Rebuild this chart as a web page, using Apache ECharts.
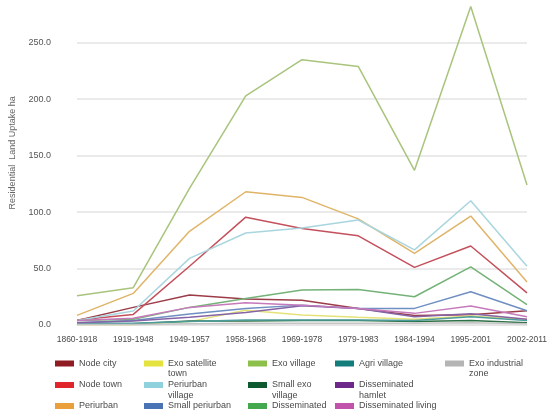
<!DOCTYPE html>
<html><head><meta charset="utf-8">
<script src="https://cdn.jsdelivr.net/npm/echarts@6/dist/echarts.min.js"></script>
<style>html,body{margin:0;padding:0;background:#fff}#c{width:550px;height:416px}</style>
</head><body><div id="c"></div>
<script>
var categories = ['1860-1918','1919-1948','1949-1957','1958-1968','1969-1978','1979-1983','1984-1994','1995-2001','2002-2011'];
var yTicks = [0, 50, 100, 150, 200, 250];

var nodeCity          = [4, 15.6, 26.5, 23, 22, 14.7, 8.5, 9, 12.6];
var nodeTown          = [4.5, 9.4, 52, 95.5, 85.5, 79, 51, 70, 28.5];
var periurban         = [8.5, 28, 83, 118, 113, 94, 63.5, 96.5, 38];
var exoSatelliteTown  = [0.5, 0.5, 3, 13, 8.8, 6.8, 5, 8, 5];
var periurbanVillage  = [4, 12.4, 59, 81.5, 86, 93, 66.5, 110, 52];
var smallPeriurban    = [2, 4, 9.7, 14.7, 17.6, 14.7, 14.7, 29.4, 12.6];
var exoVillage        = [26, 33, 121, 203, 235, 229, 137, 282, 124];
var smallExoVillage   = [1, 1, 3.5, 3.5, 4, 4, 3, 4, 2];
var disseminated      = [4, 5, 15.6, 23.5, 31, 31.5, 25, 51.5, 18];
var agriVillage       = [1.5, 1.5, 3, 4.5, 4.5, 4.5, 4, 7.4, 4];
var dissHamlet        = [2, 3.5, 6.8, 11, 17, 14.7, 7.4, 10, 5];
var dissLiving        = [4, 6, 15.6, 19.7, 17.6, 14.7, 10.3, 16.8, 7.4];
var exoIndustrialZone = [0.5, 0.5, 1, 1.5, 1.5, 1.5, 1.5, 2, 1];

var seriesNames = ['Node city','Node town','Periurban','Exo satellite town','Periurban village','Small periurban','Exo village','Small exo village','Disseminated','Agri village','Disseminated hamlet','Disseminated living','Exo industrial zone'];
var seriesData = [nodeCity,nodeTown,periurban,exoSatelliteTown,periurbanVillage,smallPeriurban,exoVillage,smallExoVillage,disseminated,agriVillage,dissHamlet,dissLiving,exoIndustrialZone];
var legendColors = ['#8e1c22','#e0252d','#e9a03a','#e3e23e','#8fd2de','#4a73b5','#8cc04a','#0e5a30','#44a84e','#137d7c','#6e2889','#c153aa','#b5b5b5'];
var lineColors   = ['#9b3c48','#c4505c','#e0b468','#e6e27a','#a9d6de','#6f8fc2','#a9c47c','#2e7046','#74b277','#4d9c9c','#8564a6','#c57abb','#c4c4c4'];
var legendLabels = {'Exo satellite town':' \nExo satellite\ntown','Periurban village':' \nPeriurban\nvillage','Small exo village':' \nSmall exo\nvillage','Disseminated hamlet':' \nDisseminated\nhamlet','Exo industrial zone':' \nExo industrial\nzone'};

// legend grid: [name, column index, row index]
var colX = [55, 144, 248, 335, 445];
var rowY = [363.5, 385, 406];
var legendCells = [
  ['Node city',0,0],['Exo satellite town',1,0],['Exo village',2,0],['Agri village',3,0],['Exo industrial zone',4,0],
  ['Node town',0,1],['Periurban village',1,1],['Small exo village',2,1],['Disseminated hamlet',3,1],
  ['Periurban',0,2],['Small periurban',1,2],['Disseminated',2,2],['Disseminated living',3,2]
];

var FONT = "'Liberation Sans',Arial,sans-serif";
var LH = 10.5;
var legends = legendCells.map(function(c){
  var two = !!legendLabels[c[0]];
  return {
    show: true, orient: 'horizontal', padding: 0,
    left: colX[c[1]],
    top: rowY[c[2]] - (two ? 3 * LH / 2 : LH / 2),
    icon: 'rect', itemWidth: 19, itemHeight: 6, itemGap: 0,
    selectedMode: false,
    formatter: function(n){ return legendLabels[n] || n; },
    textStyle: {
      fontFamily: FONT, fontSize: 9, color: '#4a4a4a', lineHeight: LH,
      backgroundColor: 'rgba(255,255,255,0)', padding: 0
    },
    data: [c[0]]
  };
});

var series = seriesNames.map(function(n,i){
  return {
    name: n, type: 'line', data: seriesData[i],
    showSymbol: false, symbol: 'none', clip: false,
    itemStyle: { color: legendColors[i] },
    lineStyle: { color: lineColors[i], width: 1.5 },
    z: 2
  };
});

var chart = echarts.init(document.getElementById('c'), null, {renderer:'canvas'});
chart.setOption({
  animation: false,
  backgroundColor: '#fff',
  grid: { left: 73, right: 22, top: 42.7, bottom: 91 },
  legend: legends,
  xAxis: {
    type: 'category', data: categories, boundaryGap: false,
    axisLine: { show: true, lineStyle: { color: '#e3e3e3', width: 1.5 } },
    axisTick: { show: false },
    axisLabel: { fontFamily: FONT, fontSize: 8.5, color: '#4a4a4a', margin: 10, interval: 0 }
  },
  yAxis: {
    type: 'value', min: yTicks[0], max: yTicks[yTicks.length-1], interval: 50,
    name: 'Residential  Land Uptake ha', nameLocation: 'middle', nameGap: 60,
    nameTextStyle: { fontFamily: FONT, fontSize: 9, color: '#666', padding: [0,0,0,62] },
    axisLine: { show: false }, axisTick: { show: false },
    splitLine: { lineStyle: { color: '#e3e3e3', width: 1.5 } },
    axisLabel: { fontFamily: FONT, fontSize: 9, color: '#555', margin: 26,
      formatter: function(v){ return v.toFixed(1); } }
  },
  series: series
});
</script></body></html>
